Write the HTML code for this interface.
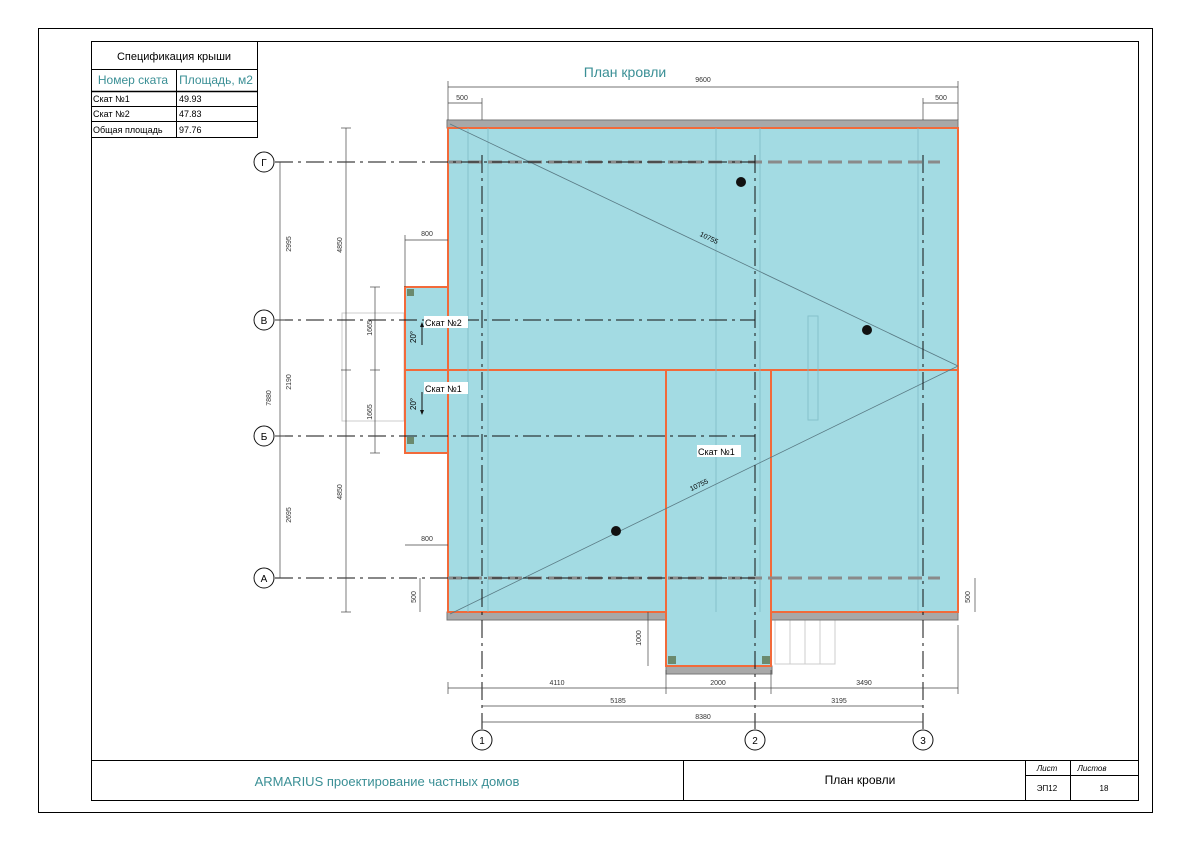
<!DOCTYPE html>
<html><head><meta charset="utf-8"><style>
body{margin:0;background:#fff}
svg{display:block}
text{font-family:"Liberation Sans",sans-serif}
</style></head><body>
<svg width="1191" height="841" viewBox="0 0 1191 841" xmlns="http://www.w3.org/2000/svg">
<rect x="0" y="0" width="1191" height="841" fill="#fff"/>
<rect x="38.5" y="28.5" width="1114" height="784" fill="none" stroke="#000" stroke-width="1"/>
<rect x="91.5" y="41.5" width="1047" height="759" fill="none" stroke="#000" stroke-width="1"/>
<!-- spec table -->
<g stroke="#000" stroke-width="1" fill="none">
<rect x="91.5" y="41.5" width="166" height="96"/>
<line x1="91" y1="69.5" x2="257" y2="69.5"/>
<line x1="91" y1="91.5" x2="257" y2="91.5" stroke-width="1.5"/>
<line x1="91" y1="106.5" x2="257" y2="106.5"/>
<line x1="91" y1="121.5" x2="257" y2="121.5"/>
<line x1="176.5" y1="69" x2="176.5" y2="137"/>
</g>
<text x="174" y="60" font-size="11" text-anchor="middle">Спецификация крыши</text>
<text x="133" y="84" font-size="12" fill="#3a8f95" text-anchor="middle">Номер ската</text>
<text x="216" y="84" font-size="12" fill="#3a8f95" text-anchor="middle">Площадь, м2</text>
<g font-size="9"><text x="93" y="102">Скат №1</text><text x="179" y="102">49.93</text>
<text x="93" y="117">Скат №2</text><text x="179" y="117">47.83</text>
<text x="93" y="133">Общая площадь</text><text x="179" y="133">97.76</text></g>
<!-- title -->
<text x="625" y="77" font-size="14" fill="#3a8f95" text-anchor="middle">План кровли</text>
<!-- title block -->
<g stroke="#000" stroke-width="1" fill="none">
<line x1="91" y1="760.5" x2="1138" y2="760.5"/>
<line x1="683.5" y1="760" x2="683.5" y2="800"/>
<line x1="1025.5" y1="760" x2="1025.5" y2="800"/>
<line x1="1070.5" y1="760" x2="1070.5" y2="800"/>
<line x1="1025" y1="775.5" x2="1138" y2="775.5"/>
</g>
<text x="387" y="786" font-size="13" fill="#3a8f95" text-anchor="middle">ARMARIUS проектирование частных домов</text>
<text x="860" y="784" font-size="12" text-anchor="middle">План кровли</text>
<text x="1047" y="771" font-size="8" font-style="italic" text-anchor="middle">Лист</text>
<text x="1092" y="771" font-size="8" font-style="italic" text-anchor="middle">Листов</text>
<text x="1047" y="791" font-size="8" text-anchor="middle">ЭП12</text>
<text x="1104" y="791" font-size="8" text-anchor="middle">18</text>

<!-- faint background details -->
<g stroke="#ccc" stroke-width="1" fill="none">
<rect x="342" y="313" width="62" height="108"/>
<rect x="775" y="620" width="60" height="44"/>
<line x1="790" y1="620" x2="790" y2="664"/><line x1="805" y1="620" x2="805" y2="664"/><line x1="820" y1="620" x2="820" y2="664"/>
</g>
<!-- roof -->
<rect x="447" y="120" width="511" height="8" fill="#a8a8a8" stroke="#777"/>
<rect x="447" y="612" width="511" height="8" fill="#a8a8a8" stroke="#777"/>
<rect x="666" y="666" width="106" height="8" fill="#a8a8a8" stroke="#777"/>
<g fill="#a3dbe3" stroke="#f26a3a" stroke-width="2">
<rect x="448" y="128" width="510" height="484"/>
<rect x="405" y="287" width="43" height="166"/>
<rect x="666" y="370" width="105" height="296"/>
</g>
<line x1="405" y1="370" x2="958" y2="370" stroke="#f26a3a" stroke-width="2"/>
<line x1="448" y1="288" x2="448" y2="452" stroke="#f26a3a" stroke-width="2"/>
<g fill="#6b8a6e"><rect x="407" y="289" width="7" height="7"/><rect x="407" y="437" width="7" height="7"/><rect x="668" y="656" width="8" height="8"/><rect x="762" y="656" width="8" height="8"/></g>
<!-- inner faint structure -->
<g stroke="#7fbcc6" stroke-width="1" fill="none" opacity="0.8">
<line x1="468" y1="128" x2="468" y2="612"/><line x1="488" y1="128" x2="488" y2="612"/>
<line x1="716" y1="128" x2="716" y2="612"/><line x1="918" y1="128" x2="918" y2="612"/>
<line x1="760" y1="128" x2="760" y2="612"/>
<rect x="808" y="316" width="10" height="104"/>
</g>
<line x1="448" y1="162" x2="940" y2="162" stroke="#8a8a8a" stroke-width="3" stroke-dasharray="14,6"/>
<line x1="448" y1="578" x2="940" y2="578" stroke="#8a8a8a" stroke-width="3" stroke-dasharray="14,6"/>
<!-- diagonals -->
<g stroke="#5a7b85" stroke-width="0.8"><line x1="450" y1="124" x2="958" y2="366"/><line x1="450" y1="614" x2="958" y2="366"/></g>
<text x="708" y="240" font-size="7" transform="rotate(26 708 240)" text-anchor="middle">10755</text>
<text x="700" y="487" font-size="7" transform="rotate(-26 700 487)" text-anchor="middle">10755</text>
<g fill="#111"><circle cx="741" cy="182" r="5"/><circle cx="867" cy="330" r="5"/><circle cx="616" cy="531" r="5"/></g>
<!-- grid lines -->
<g stroke="#111" stroke-width="1" stroke-dasharray="18,5,3,5" fill="none">
<line x1="275" y1="162" x2="755" y2="162"/>
<line x1="275" y1="320" x2="755" y2="320"/>
<line x1="275" y1="436" x2="755" y2="436"/>
<line x1="275" y1="578" x2="755" y2="578"/>
<line x1="482" y1="155" x2="482" y2="729"/>
<line x1="755" y1="155" x2="755" y2="729"/>
<line x1="923" y1="155" x2="923" y2="729"/>
</g>
<g stroke="#111" fill="#fff">
<circle cx="264" cy="162" r="10"/><circle cx="264" cy="320" r="10"/><circle cx="264" cy="436" r="10"/><circle cx="264" cy="578" r="10"/>
<circle cx="482" cy="740" r="10"/><circle cx="755" cy="740" r="10"/><circle cx="923" cy="740" r="10"/>
</g>
<g font-size="10" text-anchor="middle">
<text x="264" y="166">Г</text><text x="264" y="324">В</text><text x="264" y="440">Б</text><text x="264" y="582">А</text>
<text x="482" y="744">1</text><text x="755" y="744">2</text><text x="923" y="744">3</text></g>
<!-- labels -->
<g font-size="9">
<rect x="424" y="316" width="44" height="12" fill="#fff"/><text x="425" y="326">Скат №2</text>
<rect x="424" y="382" width="44" height="12" fill="#fff"/><text x="425" y="392">Скат №1</text>
<rect x="697" y="445" width="44" height="12" fill="#fff"/><text x="698" y="455">Скат №1</text>
</g>
<g stroke="#111" stroke-width="1"><line x1="422" y1="345" x2="422" y2="325"/><line x1="422" y1="392" x2="422" y2="412"/></g>
<path d="M422 322 l-2 5 h4z M422 415 l-2 -5 h4z" fill="#111"/>
<g font-size="8"><text transform="translate(416 343) rotate(-90)">20°</text><text transform="translate(416 410) rotate(-90)">20°</text></g>
<!-- dimensions -->
<g stroke="#444" stroke-width="0.7" fill="none">
<line x1="448" y1="87" x2="958" y2="87"/><line x1="448" y1="81" x2="448" y2="120"/><line x1="958" y1="81" x2="958" y2="120"/>
<line x1="448" y1="103" x2="482" y2="103"/><line x1="923" y1="103" x2="958" y2="103"/><line x1="482" y1="98" x2="482" y2="120"/><line x1="923" y1="98" x2="923" y2="120"/>
<line x1="280" y1="162" x2="280" y2="578"/><line x1="275" y1="320" x2="285" y2="320"/><line x1="275" y1="436" x2="285" y2="436"/>
<line x1="346" y1="128" x2="346" y2="612"/><line x1="341" y1="370" x2="351" y2="370"/><line x1="341" y1="128" x2="351" y2="128"/><line x1="341" y1="612" x2="351" y2="612"/>
<line x1="375" y1="287" x2="375" y2="453"/><line x1="370" y1="287" x2="380" y2="287"/><line x1="370" y1="453" x2="380" y2="453"/><line x1="370" y1="370" x2="380" y2="370"/>
<line x1="405" y1="240" x2="448" y2="240"/><line x1="405" y1="545" x2="448" y2="545"/><line x1="405" y1="235" x2="405" y2="287"/>
<line x1="420" y1="578" x2="420" y2="612"/><line x1="975" y1="578" x2="975" y2="612"/>
<line x1="648" y1="612" x2="648" y2="666"/>
<line x1="448" y1="688" x2="958" y2="688"/><line x1="448" y1="682" x2="448" y2="694"/><line x1="666" y1="670" x2="666" y2="694"/><line x1="771" y1="670" x2="771" y2="694"/><line x1="958" y1="625" x2="958" y2="694"/>
<line x1="482" y1="706" x2="923" y2="706"/>
<line x1="482" y1="722" x2="923" y2="722"/>
</g>
<g font-size="7" fill="#333" text-anchor="middle">
<text x="703" y="82">9600</text><text x="462" y="100">500</text><text x="941" y="100">500</text>
<text transform="translate(291 244) rotate(-90)">2995</text>
<text transform="translate(291 382) rotate(-90)">2190</text>
<text transform="translate(291 515) rotate(-90)">2695</text>
<text transform="translate(271 398) rotate(-90)">7880</text>
<text transform="translate(342 245) rotate(-90)">4850</text>
<text transform="translate(342 492) rotate(-90)">4850</text>
<text transform="translate(372 328) rotate(-90)">1665</text>
<text transform="translate(372 412) rotate(-90)">1665</text>
<text x="427" y="236">800</text><text x="427" y="541">800</text>
<text transform="translate(416 597) rotate(-90)">500</text>
<text transform="translate(970 597) rotate(-90)">500</text>
<text transform="translate(641 638) rotate(-90)">1000</text>
<text x="557" y="685">4110</text><text x="718" y="685">2000</text><text x="864" y="685">3490</text>
<text x="618" y="703">5185</text><text x="839" y="703">3195</text><text x="703" y="719">8380</text>
</g>
</svg>
</body></html>
